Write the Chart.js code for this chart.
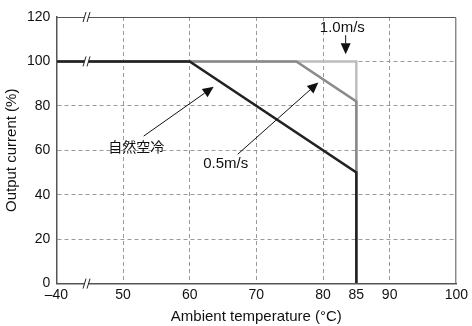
<!DOCTYPE html>
<html>
<head>
<meta charset="utf-8">
<script src="https://cdn.jsdelivr.net/npm/chart.js@4/dist/chart.umd.min.js"></script>
<style>
  html, body { margin: 0; padding: 0; background: #fff; }
  #chart { display: block; }
</style>
</head>
<body>
<canvas id="chart" width="472" height="326"></canvas>
<script>
// x axis has a break: -40 is drawn at position 40
const xTicks = [40, 50, 60, 70, 80, 85, 90, 100];
const xTickLabels = ['\u201340', '50', '60', '70', '80', '85', '90', '100'];
const yTicks = [0, 20, 40, 60, 80, 100, 120];

// derating curves (x in axis position, y in %)
const naturalX = [40, 60, 85, 85];
const naturalY = [100, 100, 50, 0];
const air05X = [40, 76, 85, 85];
const air05Y = [100, 100, 82, 0];
const air10X = [40, 85, 85];
const air10Y = [100, 100, 0];

const labelNatural = '自然空冷';
const label05 = '0.5m/s';
const label10 = '1.0m/s';

function toPoints(xs, ys) {
    return xs.map((x, i) => ({x: x, y: ys[i]}));
}

const latin = "'Liberation Sans', Arial, sans-serif";
const cjk = "'Noto Sans CJK JP', 'Liberation Sans', sans-serif";

// annotation texts with arrows, in data coordinates
const notes = [
    {text: label10, font: '15px ' + latin, at: [82.9, 115], from: [83.4, 111.8], to: [83.4, 103.2]},
    {text: label05, font: '15px ' + latin, at: [65.4, 54.1], from: [67.2, 58.2], to: [79.3, 90.5]},
    {text: labelNatural, font: '14px ' + cjk, at: [52.0, 61.8], from: [53.1, 66.4], to: [63.6, 88.6]}
];

const breakX = 44.6;
const breakYs = [120, 100, 0];

function arrow(ctx, x1, y1, x2, y2) {
    const a = Math.atan2(y2 - y1, x2 - x1);
    const len = 11, half = 5;
    const bx = x2 - len * Math.cos(a), by = y2 - len * Math.sin(a);
    ctx.beginPath();
    ctx.moveTo(x1, y1);
    ctx.lineTo(bx, by);
    ctx.stroke();
    ctx.beginPath();
    ctx.moveTo(x2, y2);
    ctx.lineTo(bx + half * Math.sin(a), by - half * Math.cos(a));
    ctx.lineTo(bx - half * Math.sin(a), by + half * Math.cos(a));
    ctx.closePath();
    ctx.fill();
}

const framePlugin = {
    id: 'frame',
    beforeDatasetsDraw(chart) {
        const {ctx, chartArea: a} = chart;
        ctx.save();
        ctx.strokeStyle = '#555';
        ctx.lineWidth = 1;
        ctx.beginPath();
        ctx.moveTo(a.left, a.top + 0.5);
        ctx.lineTo(a.right - 0.5, a.top + 0.5);
        ctx.lineTo(a.right - 0.5, a.bottom);
        ctx.stroke();
        ctx.restore();
    },
    afterDraw(chart) {
        const {ctx} = chart;
        const xs = chart.scales.x, ys = chart.scales.y;
        ctx.save();
        // axis break marks
        const px = xs.getPixelForValue(breakX);
        breakYs.forEach(v => {
            const py = ys.getPixelForValue(v);
            ctx.fillStyle = '#fff';
            ctx.beginPath();
            ctx.moveTo(px - 4, py + 5);
            ctx.lineTo(px - 1, py - 5);
            ctx.lineTo(px + 3, py - 5);
            ctx.lineTo(px, py + 5);
            ctx.closePath();
            ctx.fill();
            ctx.strokeStyle = '#222';
            ctx.lineWidth = 1;
            ctx.beginPath();
            ctx.moveTo(px - 4, py + 5);
            ctx.lineTo(px - 1, py - 5);
            ctx.moveTo(px, py + 5);
            ctx.lineTo(px + 3, py - 5);
            ctx.stroke();
        });
        // annotations
        ctx.fillStyle = '#111';
        ctx.strokeStyle = '#111';
        ctx.lineWidth = 1;
        ctx.textAlign = 'center';
        ctx.textBaseline = 'middle';
        notes.forEach(n => {
            ctx.font = n.font;
            ctx.fillText(n.text, xs.getPixelForValue(n.at[0]), ys.getPixelForValue(n.at[1]));
            arrow(ctx,
                xs.getPixelForValue(n.from[0]), ys.getPixelForValue(n.from[1]),
                xs.getPixelForValue(n.to[0]), ys.getPixelForValue(n.to[1]));
        });
        ctx.restore();
    }
};

const tickFont = {family: latin, size: 14, lineHeight: 1.1};
const titleFont = {family: latin, size: 15};

new Chart(document.getElementById('chart'), {
    type: 'line',
    data: {
        datasets: [
            {
                label: labelNatural,
                data: toPoints(naturalX, naturalY),
                borderColor: '#222',
                borderWidth: 2.5
            },
            {
                label: label05,
                data: toPoints(air05X, air05Y),
                borderColor: '#8a8a8a',
                borderWidth: 2.5
            },
            {
                label: label10,
                data: toPoints(air10X, air10Y),
                borderColor: '#bdbdbd',
                borderWidth: 2.5
            }
        ]
    },
    options: {
        responsive: false,
        animation: false,
        layout: {padding: {top: 17, right: 6, left: 3, bottom: 0}},
        datasets: {
            line: {pointRadius: 0, tension: 0, fill: false, borderJoinStyle: 'miter'}
        },
        plugins: {legend: {display: false}, tooltip: {enabled: false}},
        scales: {
            x: {
                type: 'linear',
                min: 40,
                max: 100,
                afterBuildTicks: scale => { scale.ticks = xTicks.map(v => ({value: v})); },
                ticks: {
                    color: '#111',
                    font: tickFont,
                    padding: 4,
                    maxRotation: 0,
                    autoSkip: false,
                    callback: (v) => xTickLabels[xTicks.indexOf(v)]
                },
                grid: {
                    drawTicks: false,
                    lineWidth: 1,
                    color: ctx => ([50, 60, 70, 80, 90].includes(ctx.tick && ctx.tick.value) ? '#9a9a9a' : 'rgba(0,0,0,0)')
                },
                border: {display: true, color: '#555', width: 1.5, dash: [4, 3]},
                title: {
                    display: true,
                    text: 'Ambient temperature (°C)',
                    color: '#111',
                    font: titleFont,
                    padding: {top: 1, bottom: 0}
                }
            },
            y: {
                type: 'linear',
                min: 0,
                max: 120,
                afterBuildTicks: scale => { scale.ticks = yTicks.map(v => ({value: v})); },
                ticks: {color: '#111', font: tickFont, padding: 6},
                grid: {
                    drawTicks: false,
                    lineWidth: 1,
                    color: ctx => ([20, 40, 60, 80, 100].includes(ctx.tick && ctx.tick.value) ? '#9a9a9a' : 'rgba(0,0,0,0)')
                },
                border: {display: true, color: '#555', width: 1.5, dash: [4, 3]},
                title: {
                    display: true,
                    text: 'Output current (%)',
                    color: '#111',
                    font: titleFont,
                    padding: {top: 0, bottom: 0}
                }
            }
        }
    },
    plugins: [framePlugin]
});
</script>
</body>
</html>
